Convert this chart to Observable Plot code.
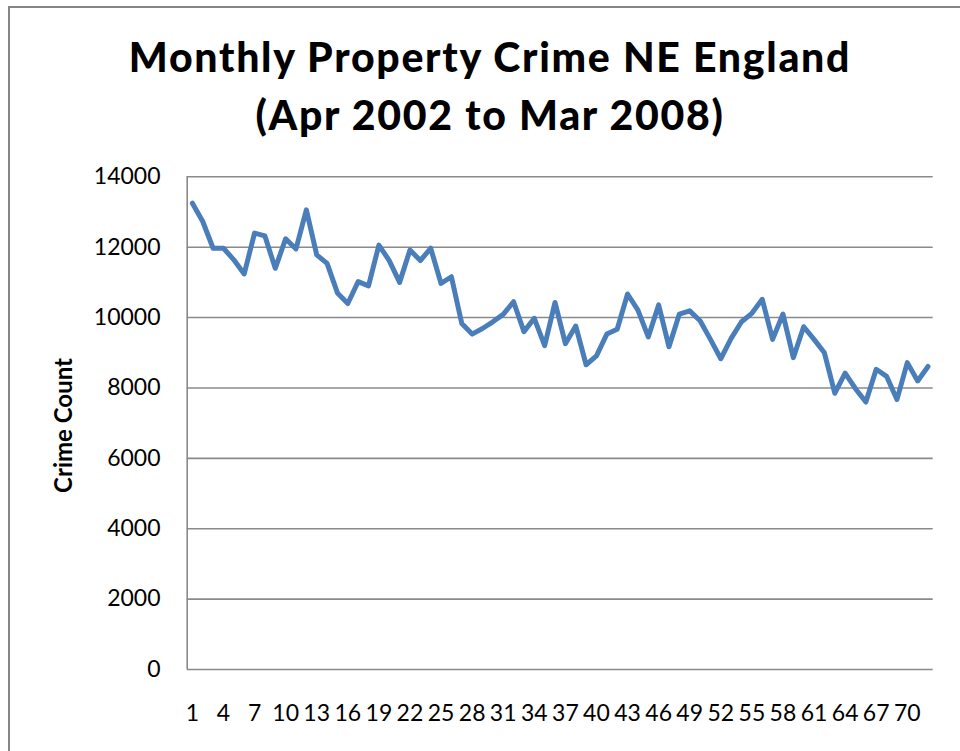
<!DOCTYPE html>
<html>
<head>
<meta charset="utf-8">
<script src="https://cdn.jsdelivr.net/npm/d3@7"></script>
<script src="https://cdn.jsdelivr.net/npm/@observablehq/plot@0.6"></script>
<style>
html, body { margin: 0; padding: 0; background: #fff; }
#wrap { position: relative; width: 960px; height: 751px; overflow: hidden; background: #fff; font-family: Lato, sans-serif; }
#frame { position: absolute; left: 8px; top: 6px; width: 1100px; height: 900px; border: 2px solid #868686; box-sizing: border-box; }
.t { position: absolute; left: 0; width: 980px; text-align: center; font-weight: 900; font-size: 41px; line-height: 58px; letter-spacing: 1.7px; color: #000; white-space: nowrap; }
#chart { position: absolute; left: 0; top: 150px; }
</style>
</head>
<body>
<div id="wrap">
  <div id="frame"></div>
  <div class="t" style="top:28px">Monthly Property Crime NE England</div>
  <div class="t" style="top:86px">(Apr 2002 to Mar 2008)</div>
  <div id="chart"></div>
</div>
<script>
const months = [1,2,3,4,5,6,7,8,9,10,11,12,13,14,15,16,17,18,19,20,21,22,23,24,
  25,26,27,28,29,30,31,32,33,34,35,36,37,38,39,40,41,42,43,44,45,46,47,48,
  49,50,51,52,53,54,55,56,57,58,59,60,61,62,63,64,65,66,67,68,69,70,71,72];

const crimeCount = [13250,12730,11970,11970,11640,11240,12400,12320,11400,12240,11950,13060,
  11780,11540,10700,10400,11020,10900,12060,11620,11000,11920,11620,11970,
  10970,11160,9830,9530,9690,9880,10090,10450,9600,9980,9200,10430,
  9260,9760,8660,8910,9530,9670,10670,10210,9450,10360,9170,10100,
  10190,9910,9380,8830,9410,9880,10120,10520,9380,10100,8860,9740,
  9380,9000,7850,8420,7980,7600,8530,8330,7670,8720,8200,8610];

const xTicks = [1,4,7,10,13,16,19,22,25,28,31,34,37,40,43,46,49,52,55,58,61,64,67,70];
const yTicks = [0,2000,4000,6000,8000,10000,12000,14000];
const yLabel = "Crime Count";

const data = months.map((m, i) => ({month: m, count: crimeCount[i]}));
const step = (960 - 186.7 - 27.3) / months.length;

const chart = Plot.plot({
  width: 960,
  height: 601,
  marginTop: 26.3,
  marginBottom: 82,
  marginLeft: 186.7,
  marginRight: 27.3,
  style: {fontFamily: "Lato, sans-serif", fontSize: "23px", background: "transparent", color: "#000"},
  x: {type: "point", domain: months, padding: 0.5, align: 0.5, round: false},
  y: {domain: [0, 14000]},
  marks: [
    Plot.ruleY(yTicks, {stroke: "#8a8a8a", strokeWidth: 1.6}),
    Plot.ruleX([months[0]], {x: d => d, dx: -step / 2, y1: 0, y2: 14000, stroke: "#8a8a8a", strokeWidth: 1.6}),
    Plot.axisY({ticks: yTicks, tickSize: 0, tickPadding: 26.7, fontSize: 23, label: null, tickFormat: d => String(d), fill: "#000"}),
    Plot.axisX({ticks: xTicks, tickSize: 0, tickPadding: 35, fontSize: 23, label: null, tickFormat: d => String(d), fill: "#000"}),
    Plot.line(data, {x: "month", y: "count", stroke: "#4a7ebb", strokeWidth: 5, strokeLinejoin: "round", strokeLinecap: "round"}),
    Plot.text([yLabel], {frameAnchor: "left", rotate: -90, dx: -122.7, dy: 2.3, fontSize: 24, fontWeight: "bold", fill: "#000", textAnchor: "middle", lineAnchor: "middle"})
  ]
});
document.getElementById("chart").appendChild(chart);
</script>
</body>
</html>
